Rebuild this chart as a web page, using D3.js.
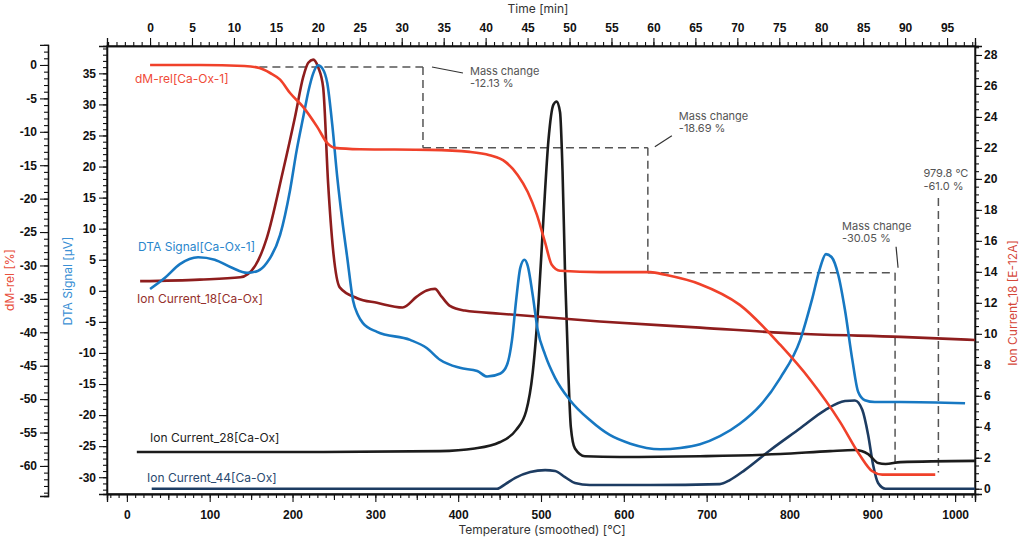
<!DOCTYPE html>
<html>
<head>
<meta charset="utf-8">
<script src="https://cdn.jsdelivr.net/npm/d3@7"></script>
<style>
  html, body { margin: 0; background: #fff; }
  svg { display: block; font-family: Inter, "Open Sans", sans-serif; }
  .tick text { font-family: "Liberation Sans", Arial, sans-serif; font-weight: bold; font-size: 12px; fill: #111; }
</style>
</head>
<body>
<svg id="chart" width="1024" height="539"></svg>
<script>
// --- data (temperature in °C) ---
const tempDM = [28, 88, 142, 160, 173, 185, 197, 213, 230, 242, 251, 281, 366, 414, 438, 457, 472, 484, 495, 505, 513, 523, 571, 632, 650, 692, 740, 789, 825, 861, 885, 900, 912, 976];
const valDM  = [0, 0, -0.15, -0.45, -1.2, -2.2, -4.2, -6.3, -9.3, -11.7, -12.4, -12.6, -12.7, -13.0, -13.5, -14.5, -16.5, -19.0, -22.4, -26.6, -29.9, -30.8, -31.0, -31.0, -31.4, -32.8, -35.9, -41.9, -47.1, -53.4, -58.4, -60.8, -61.3, -61.3];

const tempDTA = [28, 46, 64, 86, 106, 127, 145, 158, 169, 185, 197, 205, 213, 220, 225, 231, 236, 242, 248, 254, 260, 266, 273, 279, 285, 302, 342, 362, 378, 402, 423, 435, 451, 459, 465, 470, 475, 480, 484, 490, 496, 505, 517, 535, 559, 583, 608, 644, 668, 692, 716, 740, 765, 789, 813, 827, 837, 844, 851, 859, 867, 876, 883, 891, 903, 934, 1012];
const valDTA  = [0.3, 2.1, 4.3, 5.4, 5.0, 3.7, 2.9, 3.2, 4.5, 9.0, 16.2, 22.6, 28.0, 32.6, 35.0, 36.3, 35.8, 33.4, 26.7, 18.3, 11.4, 5.4, -1.5, -3.9, -5.2, -6.6, -7.9, -9.2, -11.1, -12.4, -12.9, -13.8, -13.3, -11.9, -7.9, -1.5, 3.7, 5.0, 4.0, -0.7, -6.3, -10.3, -14.0, -17.6, -20.8, -23.2, -24.6, -25.5, -25.3, -24.7, -23.4, -21.4, -18.4, -14.0, -7.9, -1.5, 3.7, 5.9, 5.4, 2.5, -3.1, -11.2, -16.3, -17.6, -17.9, -17.9, -18.1];

const tempI18 = [16, 88, 137, 155, 169, 188, 203, 213, 219, 225, 231, 237, 243, 249, 257, 278, 302, 333, 350, 362, 372, 380, 390, 408, 451, 571, 692, 813, 934, 1024];
const valI18  = [13.4, 13.5, 13.65, 14.4, 16.2, 20.4, 24.0, 26.6, 27.5, 27.7, 27.2, 25.9, 19.7, 15.4, 13.0, 12.3, 12.0, 11.7, 12.4, 12.8, 12.9, 12.4, 11.8, 11.5, 11.3, 10.8, 10.4, 10.0, 9.8, 9.6];

const tempI28 = [12, 209, 378, 420, 450, 470, 482, 490, 497, 503, 509, 515, 519, 523, 526, 529, 533, 536, 541, 553, 595, 692, 789, 849, 879, 895, 907, 916, 934, 1024];
const valI28  = [2.37, 2.37, 2.43, 2.6, 3.0, 3.8, 5.0, 7.5, 12.0, 17.5, 22.5, 24.8, 25.0, 24.3, 20.5, 14.0, 7.5, 4.0, 2.6, 2.1, 2.05, 2.1, 2.24, 2.43, 2.5, 2.24, 1.66, 1.6, 1.72, 1.8];

const tempI44 = [30, 330, 447, 457, 469, 487, 505, 517, 529, 541, 559, 632, 716, 728, 746, 777, 813, 843, 867, 879, 888, 895, 901, 907, 916, 1024];
const valI44  = [0, 0, 0, 0.3, 0.7, 1.08, 1.2, 1.14, 0.75, 0.37, 0.24, 0.24, 0.3, 0.56, 1.2, 2.5, 3.9, 5.08, 5.66, 5.7, 5.08, 3.47, 1.53, 0.37, 0, 0];

// mass-change evaluation (step boundaries and dM levels)
const stepTemps  = [160, 357.5, 629, 927.5];
const stepLevels = [-0.3, -12.4, -31.1, -60.6];
const stepLabels = ["-12.13 %", "-18.69 %", "-30.05 %"];
const endTemp = 979.8, endTop = -19.9, endLevel = -61.0;
const endLabels = ["979.8 °C", "-61.0 %"];

// tick values
const timeTicks = d3.range(0, 96, 5);
const tempTicks = d3.range(0, 1001, 100);
const dmTicks = d3.range(0, -61, -5);
const dtaTicks = d3.range(35, -31, -5);
const icTicks = d3.range(0, 29, 2);

// --- layout ---
const L = 107, R = 975, T = 46, B = 494;
const svg = d3.select('#chart');

const x = d3.scaleLinear().domain([-24, 1024]).range([L, R]);
const xTime = d3.scaleLinear().domain([-5.13, 98.33]).range([L, R]);
const yDM = d3.scaleLinear().domain([2.84, -64.2]).range([T, B]);
const yDTA = d3.scaleLinear().domain([39.4, -32.7]).range([T, B]);
const yIC = d3.scaleLinear().domain([28.58, -0.34]).range([T, B]);

const fmt = d => String(d);

function styleAxis(g) {
  g.selectAll('path.domain').attr('stroke', '#111').attr('stroke-width', 1.3);
  g.selectAll('.tick line').attr('stroke', '#111').attr('stroke-width', 1.1);
  g.attr('font-family', null).attr('font-size', null);
}

// minor ticks first, then major
function addAxis(axisMinor, axisMajor, transform) {
  svg.append('g').attr('transform', transform).call(axisMinor).call(styleAxis)
    .selectAll('text').remove();
  svg.append('g').attr('transform', transform).call(axisMajor).call(styleAxis);
}

// top (time)
addAxis(
  d3.axisTop(xTime).tickValues(d3.range(-5, 99, 1)).tickSize(4).tickFormat(''),
  d3.axisTop(xTime).tickValues(timeTicks).tickSize(8).tickPadding(6).tickFormat(fmt),
  `translate(0,${T})`);

// bottom (temperature)
svg.append('g').attr('transform', `translate(0,${B})`)
  .call(d3.axisBottom(x).tickValues(d3.range(-20, 1021, 10)).tickSize(4).tickFormat(''))
  .call(styleAxis).selectAll('text').remove();
svg.append('g').attr('transform', `translate(0,${B})`)
  .call(d3.axisBottom(x).tickValues(d3.range(50, 1001, 100)).tickSize(6).tickFormat(''))
  .call(styleAxis).selectAll('text').remove();
svg.append('g').attr('transform', `translate(0,${B})`)
  .call(d3.axisBottom(x).tickValues(tempTicks).tickSize(8).tickPadding(8).tickFormat(fmt))
  .call(styleAxis);

// left outer (dM-rel)
const yDMaxis = d3.scaleLinear().domain([3, -64.5]).range([yDM(3), yDM(-64.5)]);
addAxis(
  d3.axisLeft(yDMaxis).tickValues(d3.range(2, -65, -1)).tickSize(4).tickFormat(''),
  d3.axisLeft(yDMaxis).tickValues(dmTicks).tickSize(8).tickPadding(3).tickFormat(fmt),
  `translate(48,0)`);

// left inner (DTA)
addAxis(
  d3.axisLeft(yDTA).tickValues(d3.range(39, -33, -1)).tickSize(4).tickFormat(''),
  d3.axisLeft(yDTA).tickValues(dtaTicks).tickSize(8).tickPadding(3).tickFormat(fmt),
  `translate(${L},0)`);

// right (ion current)
addAxis(
  d3.axisRight(yIC).tickValues(d3.range(0, 28.6, 0.5)).tickSize(4).tickFormat(''),
  d3.axisRight(yIC).tickValues(icTicks).tickSize(7).tickPadding(2).tickFormat(fmt),
  `translate(${R},0)`);

// frame
svg.append('rect').attr('x', L).attr('y', T).attr('width', R - L).attr('height', B - T)
  .attr('fill', 'none').attr('stroke', '#111').attr('stroke-width', 1.3);

// axis titles
const title = (txt, tx, ty, rot, color) => svg.append('text')
  .attr('transform', `translate(${tx},${ty}) rotate(${rot})`)
  .attr('text-anchor', 'middle').attr('dy', '0.35em')
  .attr('font-size', 12).attr('fill', color).text(txt);
title('Time [min]', 538, 9, 0, '#333');
title('Temperature (smoothed) [°C]', 542, 530, 0, '#333');
title('dM-rel [%]', 10, 280, -90, '#e8503e');
title('DTA Signal [µV]', 68, 281, -90, '#3a8fd4');
title('Ion Current_18 [E-12A]', 1013, 303, -90, '#d5473a');

// dashed mass-change evaluation
const dash = svg.append('g').attr('fill', 'none').attr('stroke', '#555')
  .attr('stroke-width', 1.5).attr('stroke-dasharray', '8,5');
const segs = [];
for (let i = 0; i < 3; i++) {
  segs.push([[stepTemps[i], stepLevels[i]], [stepTemps[i + 1], stepLevels[i]]]);
  segs.push([[stepTemps[i + 1], stepLevels[i]], [stepTemps[i + 1], stepLevels[i + 1]]]);
}
segs.push([[endTemp, endTop], [endTemp, endLevel]]);
const segLine = d3.line().x(d => x(d[0])).y(d => yDM(d[1]));
dash.selectAll('path').data(segs).join('path').attr('d', segLine);

// curves
const line = (ys) => d3.line().curve(d3.curveMonotoneX).x(d => x(d[0])).y(d => ys(d[1]));
const series = [
  { t: tempI44, v: valI44, y: yIC, color: '#1d3c62' },
  { t: tempI28, v: valI28, y: yIC, color: '#1c1c1c' },
  { t: tempI18, v: valI18, y: yIC, color: '#8e1d1d' },
  { t: tempDTA, v: valDTA, y: yDTA, color: '#1778c2' },
  { t: tempDM, v: valDM, y: yDM, color: '#f0412a' }
];
svg.append('g').selectAll('path').data(series).join('path')
  .attr('fill', 'none').attr('stroke-width', 2.6).attr('stroke-linejoin', 'round')
  .attr('stroke', d => d.color)
  .attr('d', d => line(d.y)(d.t.map((t, i) => [t, d.v[i]])));

// leaders + annotation text
const ann = svg.append('g').attr('font-size', 11).attr('fill', '#555');
const lead = svg.append('g').attr('stroke', '#333').attr('stroke-width', 1.2);
const leaders = [
  [x(stepTemps[1]) + 9, yDM(stepLevels[0]), x(stepTemps[1]) + 40, yDM(stepLevels[0]) + 6],
  [x(stepTemps[2]) + 7, yDM(stepLevels[1]) - 1, x(stepTemps[2]) + 24, yDM(stepLevels[1]) - 12],
  [x(stepTemps[3]) + 3, yDM(stepLevels[2]) - 5, x(stepTemps[3]) + 1, yDM(stepLevels[2]) - 26]
];
leaders.forEach(p => lead.append('line').attr('x1', p[0]).attr('y1', p[1]).attr('x2', p[2]).attr('y2', p[3]));
const texts = [
  [x(stepTemps[1]) + 47, yDM(stepLevels[0]) + 8],
  [x(stepTemps[2]) + 31, yDM(stepLevels[1]) - 28],
  [x(stepTemps[3]) - 53, yDM(stepLevels[2]) - 43]
];
texts.forEach((p, i) => {
  ann.append('text').attr('x', p[0]).attr('y', p[1]).text('Mass change');
  ann.append('text').attr('x', p[0]).attr('y', p[1] + 12).text(stepLabels[i]);
});
ann.append('text').attr('x', x(endTemp) - 15).attr('y', yDM(endTop) - 21).text(endLabels[0]);
ann.append('text').attr('x', x(endTemp) - 15).attr('y', yDM(endTop) - 8).text(endLabels[1]);

// curve labels
const labels = [
  ['dM-rel[Ca-Ox-1]', 135, 83, '#ef4b38'],
  ['DTA Signal[Ca-Ox-1]', 138, 251, '#2a86cc'],
  ['Ion Current_18[Ca-Ox]', 137, 303, '#95302c'],
  ['Ion Current_28[Ca-Ox]', 150, 442, '#222'],
  ['Ion Current_44[Ca-Ox]', 147, 482, '#2a4a70']
];
svg.append('g').attr('font-size', 12).selectAll('text').data(labels).join('text')
  .attr('x', d => d[1]).attr('y', d => d[2]).attr('fill', d => d[3]).text(d => d[0]);
</script>
</body>
</html>
